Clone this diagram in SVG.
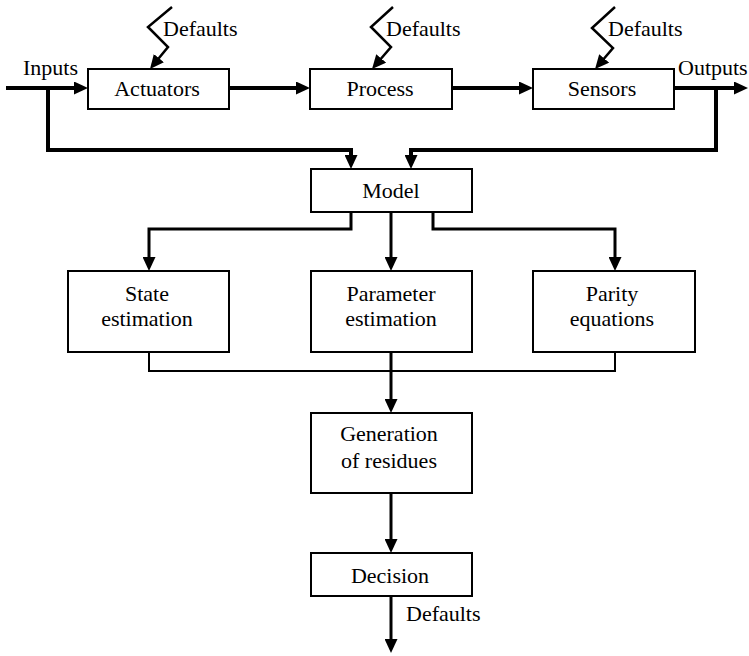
<svg xmlns="http://www.w3.org/2000/svg" width="749" height="656" viewBox="0 0 749 656" font-family="'Liberation Serif', 'DejaVu Serif', serif">
  <style>
    .box rect { fill: #fff; stroke: #000; stroke-width: 2; }
    text { font-family: 'Liberation Serif', 'DejaVu Serif', serif; font-size: 22px; fill: #000; }
    .mid { text-anchor: middle; }
    .wire { fill: none; stroke: #000; stroke-width: 4; stroke-linejoin: miter; }
    .wire3 { fill: none; stroke: #000; stroke-width: 3; }
    .thin { fill: none; stroke: #000; stroke-width: 2; }
    .bolt { fill: none; stroke: #000; stroke-width: 2.5; stroke-linejoin: miter; }
  </style>
  <defs>
    <marker id="arrow" markerUnits="userSpaceOnUse" markerWidth="14" markerHeight="13" viewBox="0 0 14 13" refX="5" refY="6.5" orient="auto">
      <path d="M0,0 L14,6.5 L0,13 z" fill="#000"/>
    </marker>
  </defs>

  <!-- connectors -->
  <g id="connectors">
    <path class="wire" d="M6,88 H79" marker-end="url(#arrow)"/>
    <path class="wire" d="M229,88 H301" marker-end="url(#arrow)"/>
    <path class="wire" d="M452,88 H524" marker-end="url(#arrow)"/>
    <path class="wire" d="M674,88 H739" marker-end="url(#arrow)"/>
    <path class="wire" d="M48,88 V150 H351 V160" marker-end="url(#arrow)"/>
    <path class="wire" d="M716,88 V150 H411 V160" marker-end="url(#arrow)"/>
    <path class="wire3" d="M351,212 V229 H149 V262" marker-end="url(#arrow)"/>
    <path class="wire3" d="M391,212 V262" marker-end="url(#arrow)"/>
    <path class="wire3" d="M433,212 V229 H615 V262" marker-end="url(#arrow)"/>
    <path class="thin" d="M149,352 V371 H615 V352"/>
    <path class="wire3" d="M391,352 V404" marker-end="url(#arrow)"/>
    <path class="wire3" d="M391,493 V544" marker-end="url(#arrow)"/>
    <path class="wire3" d="M391,596 V644" marker-end="url(#arrow)"/>
    <!-- disturbance (default) inputs -->
    <polyline class="bolt" points="172,7 148,27 168,47 155.7,62" marker-end="url(#arrow)"/>
    <polyline class="bolt" points="393,7 371,27 391,47 377.9,62.2" marker-end="url(#arrow)"/>
    <polyline class="bolt" points="615,7 592,28 613,48 600.9,62.2" marker-end="url(#arrow)"/>
  </g>

  <!-- free labels -->
  <g id="labels">
    <text x="23" y="75">Inputs</text>
    <text x="678" y="75">Outputs</text>
    <text x="163" y="36">Defaults</text>
    <text x="386" y="36">Defaults</text>
    <text x="608" y="36">Defaults</text>
    <text x="406" y="621">Defaults</text>
  </g>

  <!-- nodes -->
  <g id="actuators" class="box">
    <rect x="88" y="69" width="141" height="40"/>
    <text class="mid" x="157" y="96">Actuators</text>
  </g>
  <g id="process" class="box">
    <rect x="310" y="69" width="142" height="40"/>
    <text class="mid" x="380" y="96">Process</text>
  </g>
  <g id="sensors" class="box">
    <rect x="533" y="69" width="141" height="40"/>
    <text class="mid" x="602" y="96">Sensors</text>
  </g>
  <g id="model" class="box">
    <rect x="311" y="169" width="161" height="43"/>
    <text class="mid" x="391" y="198">Model</text>
  </g>
  <g id="state-estimation" class="box">
    <rect x="68" y="271" width="161" height="81"/>
    <text class="mid" x="147" y="301">State</text>
    <text class="mid" x="147" y="326">estimation</text>
  </g>
  <g id="parameter-estimation" class="box">
    <rect x="311" y="271" width="161" height="81"/>
    <text class="mid" x="391" y="301">Parameter</text>
    <text class="mid" x="391" y="326">estimation</text>
  </g>
  <g id="parity-equations" class="box">
    <rect x="533" y="271" width="162" height="81"/>
    <text class="mid" x="612" y="301">Parity</text>
    <text class="mid" x="612" y="326">equations</text>
  </g>
  <g id="generation-of-residues" class="box">
    <rect x="311" y="413" width="161" height="80"/>
    <text class="mid" x="389" y="441">Generation</text>
    <text class="mid" x="389" y="468">of residues</text>
  </g>
  <g id="decision" class="box">
    <rect x="311" y="553" width="161" height="43"/>
    <text class="mid" x="390" y="583">Decision</text>
  </g>
</svg>
